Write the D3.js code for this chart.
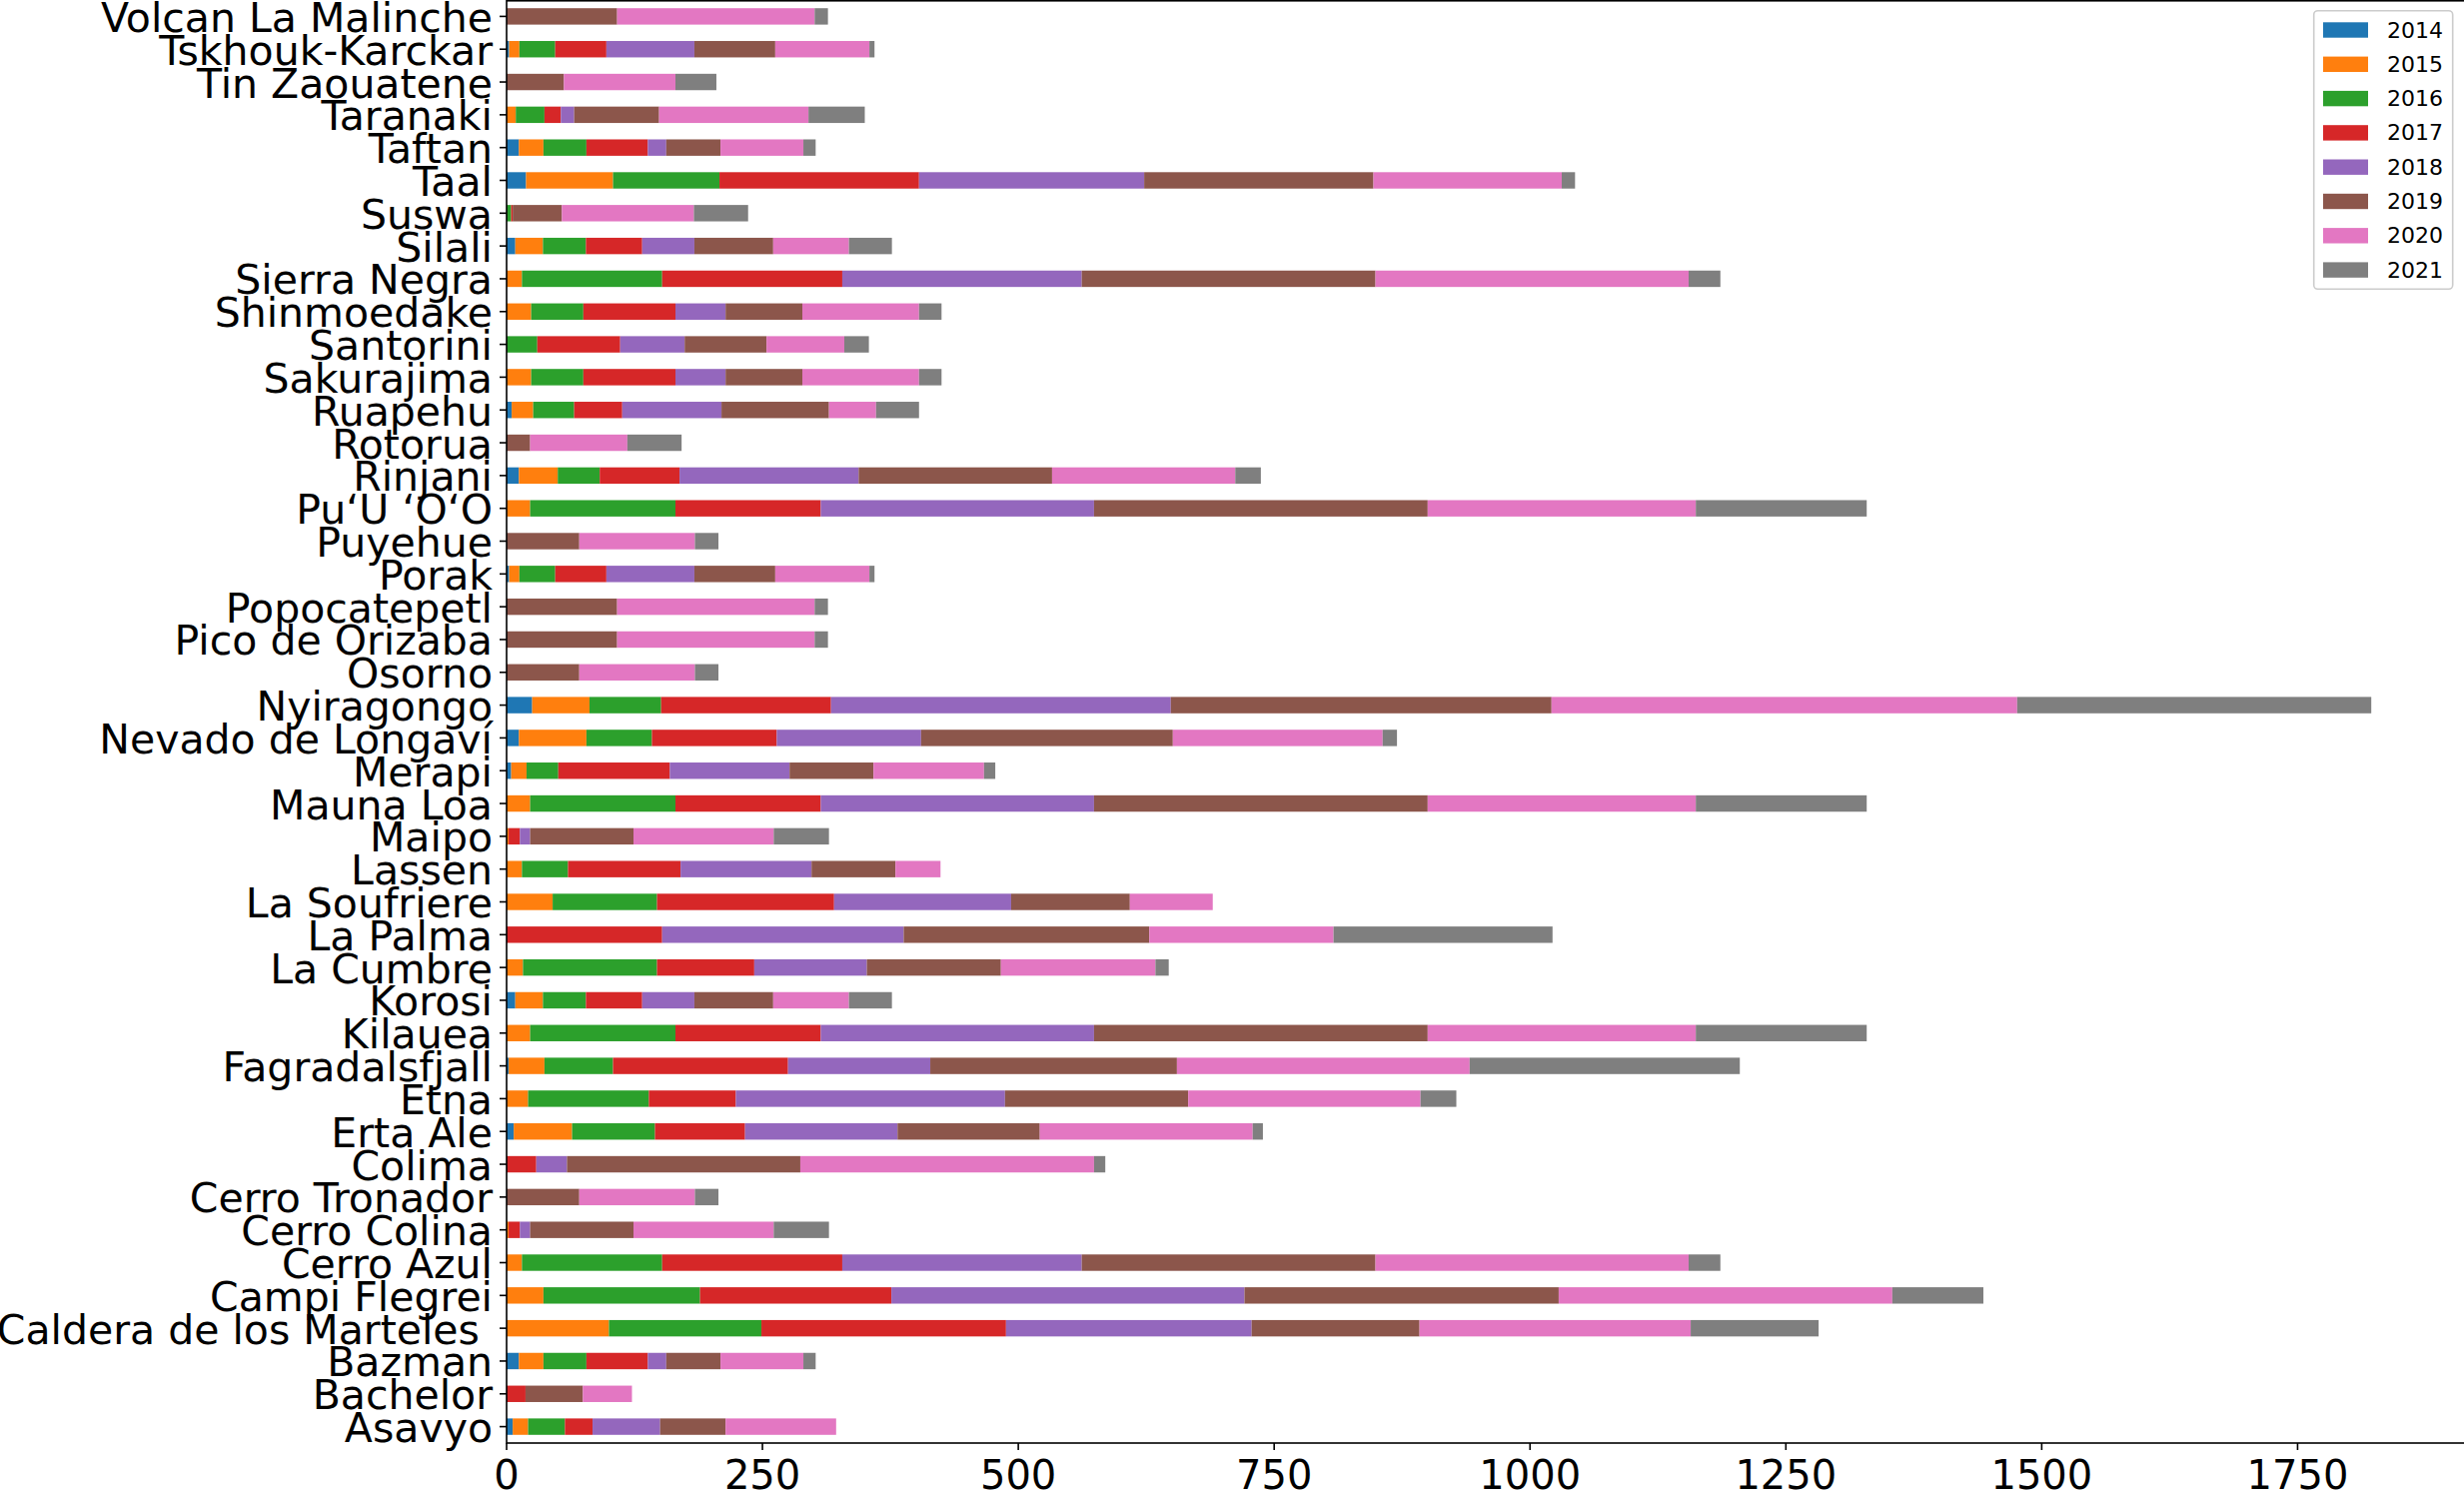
<!DOCTYPE html>
<html>
<head>
<meta charset="utf-8">
<script src="https://cdn.jsdelivr.net/npm/d3@7"></script>
<style>
html, body { margin: 0; padding: 0; background: #ffffff; }
svg { display: block; }
text { font-family: "DejaVu Sans", sans-serif; white-space: pre; fill: #000; }
</style>
</head>
<body>
<svg id="chart" width="2466" height="1493"></svg>
<script>
// Categories listed bottom to top
const categories = ["Asavyo","Bachelor","Bazman","Caldera de los Marteles ","Campi Flegrei","Cerro Azul","Cerro Colina","Cerro Tronador","Colima","Erta Ale","Etna","Fagradalsfjall","Kilauea","Korosi","La Cumbre","La Palma","La Soufriere","Lassen","Maipo","Mauna Loa","Merapi","Nevado de Longaví","Nyiragongo","Osorno","Pico de Orizaba","Popocatepetl","Porak","Puyehue","Pu‘U ‘O‘O","Rinjani","Rotorua","Ruapehu","Sakurajima","Santorini","Shinmoedake","Sierra Negra","Silali","Suswa","Taal","Taftan","Taranaki","Tin Zaouatene","Tskhouk-Karckar","Volcan La Malinche"];

const years = ["2014","2015","2016","2017","2018","2019","2020","2021"];

const v2014 = [6,0,12,0,0,0,0,0,0,7,0,2,0,8.5,0,0,0,0,0,0,4.5,12,25,0,0,0,2.5,0,0,12,0,5,0,0,0,0,8.5,0,19,12,0,0,2.5,0];
const v2015 = [15,0,24,100,36,15,2,0,0,57,21,35,23,27,16,0,45,15,2,23,15,66,56,0,0,0,10,0,23,38,0,21,24,0,24,15,27,0,85,24,9,0,10,0];
const v2016 = [36,0,42,149,153,137,0,0,0,81,118,67,142,42,131,0,102,45,0,142,31,64,70,0,0,0,35,0,142,41,0,40,51,30,51,137,42,4.5,104,42,28,0,35,0];
const v2017 = [27,18.5,60,239,187,176,11,0,29,88,85,171,142,55,95,152,173,110,11,142,109,122,166,0,0,0,50,0,142,78,0,47,90,81,90,176,55,1.5,195,60,16,0,50,0];
const v2018 = [66,0,18,240,345,234,10,0,30,149,263,139,267,51,110,236,173,128,10,267,117,141,332,0,0,0,86,0,267,175,0,97,49,63,49,234,51,0,220,18,13,0,86,0];
const v2019 = [64,56,53,164,307,287,101,71,228,139,179,241,326,77,131,240,116,82,101,326,82,246,372,71,108,108,79,71,326,189,23,105,75,80,75,287,77,48,224,53,83,56,79,108];
const v2020 = [108,48,81,265,326,306,137,113,287,208,227,286,262,74,151,180,81,44,137,262,108,205,455,113,193,193,92,113,262,179,95,46,114,76,114,306,74,129,184,81,146,109,92,193];
const v2021 = [0,0,12,125,89,31,54,23,11,10,35,264,167,42,13,214,0,0,54,167,11,14,346,23,13,13,5,23,167,25,53,42,22,24,22,31,42,53,13,12,55,40,5,13];

const xTicks = [0, 250, 500, 750, 1000, 1250, 1500, 1750];
const colors = ["#1f77b4","#ff7f0e","#2ca02c","#d62728","#9467bd","#8c564b","#e377c2","#7f7f7f"];

const seriesValues = [v2014, v2015, v2016, v2017, v2018, v2019, v2020, v2021];
const table = categories.map((c, i) => {
  const row = { name: c };
  years.forEach((y, k) => { row[y] = seriesValues[k][i]; });
  return row;
});

const svg = d3.select("#chart");
const plotLeft = 507, plotRight = 2466.5, plotTop = 0, plotBottom = 1444;

const totals = table.map(r => d3.sum(years, y => r[y]));
const x = d3.scaleLinear().domain([0, d3.max(totals) * 1.05]).range([plotLeft, plotRight]);
// bottom-to-top order: first category at the bottom
const y = d3.scaleBand().domain(categories.slice().reverse()).range([plotTop, plotBottom]).paddingInner(0.5).paddingOuter(0.25);

const stack = d3.stack().keys(years);
const stacked = stack(table);

const g = svg.append("g");
g.selectAll("g.series").data(stacked).join("g")
  .attr("fill", (d, i) => colors[i])
  .selectAll("rect").data(d => d).join("rect")
  .attr("x", d => x(d[0]))
  .attr("width", d => Math.max(0, x(d[1]) - x(d[0])))
  .attr("y", d => y(d.data.name))
  .attr("height", y.bandwidth());

// Spines
svg.append("rect")
  .attr("x", plotLeft).attr("y", plotTop + 0.8)
  .attr("width", plotRight - plotLeft + 2).attr("height", plotBottom - plotTop - 0.8)
  .attr("fill", "none").attr("stroke", "#000").attr("stroke-width", 1.6);

// Y axis ticks + labels
const yAxis = svg.append("g");
categories.forEach(c => {
  const cy = y(c) + y.bandwidth() / 2;
  yAxis.append("line").attr("x1", plotLeft - 7).attr("x2", plotLeft).attr("y1", cy).attr("y2", cy)
    .attr("stroke", "#000").attr("stroke-width", 1.6);
  yAxis.append("text").attr("x", plotLeft - 14).attr("y", cy + 1.5)
    .attr("text-anchor", "end").attr("dominant-baseline", "central")
    .attr("font-size", 41).text(c);
});

// X axis ticks + labels
const xAxis = svg.append("g");
xTicks.forEach(t => {
  const tx = x(t);
  xAxis.append("line").attr("x1", tx).attr("x2", tx).attr("y1", plotBottom).attr("y2", plotBottom + 7)
    .attr("stroke", "#000").attr("stroke-width", 1.6);
  xAxis.append("text").attr("x", tx).attr("y", plotBottom + 46)
    .attr("text-anchor", "middle").attr("font-size", 40).text(t);
});

// Legend
const lg = svg.append("g");
lg.append("rect").attr("x", 2315.7).attr("y", 10.7).attr("width", 139).attr("height", 278.6)
  .attr("rx", 4).attr("fill", "#ffffff").attr("fill-opacity", 0.8)
  .attr("stroke", "#cccccc").attr("stroke-width", 1.6);
years.forEach((yr, i) => {
  const cy = 30 + i * 34.3;
  lg.append("rect").attr("x", 2325).attr("y", cy - 7.7).attr("width", 45).attr("height", 15.4).attr("fill", colors[i]);
  lg.append("text").attr("x", 2389).attr("y", cy).attr("dominant-baseline", "central")
    .attr("font-size", 22).text(yr);
});
</script>
</body>
</html>
